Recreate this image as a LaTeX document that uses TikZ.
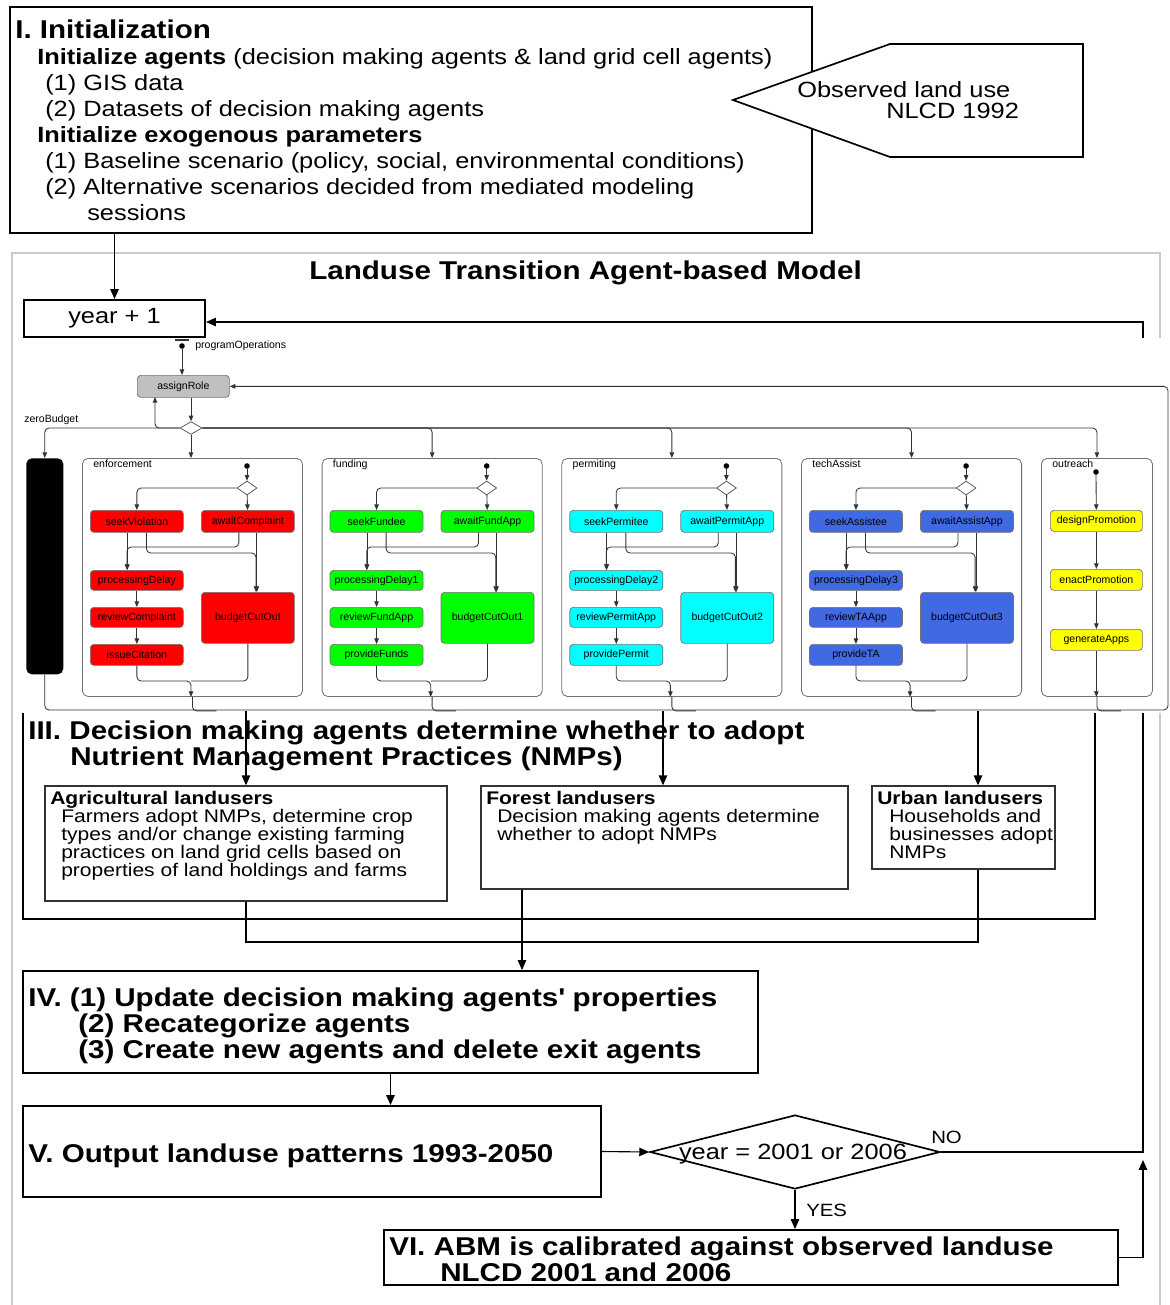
\documentclass[tikz,border=0pt]{standalone}
\usepackage{fontspec}
\setmainfont[FakeStretch=1.15]{Liberation Sans}
\newfontfamily\scfont{Liberation Sans}
\usetikzlibrary{positioning,fit,shapes.geometric,arrows.meta}

\begin{document}
\begin{tikzpicture}[x=0.025cm,y=-0.025cm,
  flowbox/.style={draw,line width=1.4pt,inner sep=0pt},
  userbox/.style={draw=black!80,line width=1pt,inner sep=0pt},
  bodytext/.style={anchor=base west,inner sep=0pt,font=\fontsize{15.7}{17}\selectfont},
  headtext/.style={anchor=base west,inner sep=0pt,font=\fontsize{18.3}{20}\selectfont\bfseries},
  usertext/.style={anchor=base west,inner sep=0pt,font=\fontsize{13}{14}\selectfont},
  usertitle/.style={usertext,font=\fontsize{13}{14}\selectfont\bfseries},
  flowline/.style={line width=0.8pt},
  flowarrow/.style={flowline,-{Triangle[length=7pt,width=6pt]}},
  scline/.style={draw=black!80,line width=0.6pt,rounded corners=3pt},
  scarrow/.style={scline,-{Triangle[length=4pt,width=3.2pt]}},
  sclabel/.style={anchor=base west,inner sep=0pt,font=\scfont\fontsize{7.5}{8}\selectfont},
  scstate/.style={draw=black!55,line width=0.5pt,rounded corners=2.5pt,inner sep=0pt,anchor=north west,
    minimum width=2.325cm,minimum height=0.55cm,font=\scfont\fontsize{7.5}{8}\selectfont},
  sccontainer/.style={draw=black!55,line width=0.6pt,rounded corners=4pt,inner sep=0pt,anchor=north west,
    minimum height=5.95cm},
  scdot/.style={circle,fill=black,inner sep=0pt,minimum size=0.14cm},
  scchoice/.style={diamond,draw=black!70,fill=white,line width=0.5pt,inner sep=0pt}]
\definecolor{scred}{HTML}{FF0000}
\definecolor{scgreen}{HTML}{00FF00}
\definecolor{sccyan}{HTML}{00FFFF}
\definecolor{scblue}{HTML}{4169E1}
\definecolor{scyellow}{HTML}{FFFF00}
\definecolor{scgray}{HTML}{C0C0C0}
\definecolor{framegray}{HTML}{CCCCCC}
\useasboundingbox (0,0) rectangle (1170,1305);

% frame of the model
\draw[framegray,line width=0.8pt] (12,1305) -- (12,253) -- (1160,253) -- (1160,1305);

% I. initialization
\node (init) [flowbox,fit={(10,7) (812,233)}] {};
\node (initTitle) [headtext] at (15,38) {I. Initialization};
\foreach \n/\x/\y/\t in {1/37/64/{\textbf{Initialize agents} (decision making agents \& land grid cell agents)},
    2/45/90/{(1) GIS data}, 3/45/116/{(2) Datasets of decision making agents},
    4/37/142/{\textbf{Initialize exogenous parameters}},
    5/45/168/{(1) Baseline scenario (policy, social, environmental conditions)},
    6/45/194/{(2) Alternative scenarios decided from mediated modeling}, 7/87/220/{sessions}}
  {\node (init\n) [bodytext] at (\x,\y) {\t};}

% observed land use
\draw[line width=1.2pt,fill=white] (733,100) -- (890,44) -- (1083,44) -- (1083,157) -- (890,157) -- cycle;
\node (obs1) [bodytext] at (797,97) {Observed land use};
\node (obs2) [bodytext] at (886,118) {NLCD 1992};

\node (modelTitle) [headtext] at (309,279) {Landuse Transition Agent-based Model};

\node (year) [flowbox,anchor=north west,minimum width=4.525cm,minimum height=0.925cm,
  font=\fontsize{15.7}{17}\selectfont] at (23,299) {year + 1};
\draw[flowarrow] (year |- init.south) -- (year.north);

% III. decisions
\node (decide) [flowbox,line width=1.8pt,fit={(23,712) (1095,919)}] {};
\node (decideT1) [headtext] at (28,739) {III. Decision making agents determine whether to adopt};
\node (decideT2) [headtext] at (70,765) {Nutrient Management Practices (NMPs)};

\node (agri) [userbox,fit={(45,786) (447,901)}] {};
\node (agriT) [usertitle] at (50,804) {Agricultural landusers};
\foreach \n/\y/\t in {1/822/{Farmers adopt NMPs, determine crop}, 2/840/{types and/or change existing farming},
    3/858/{practices on land grid cells based on}, 4/876/{properties of land holdings and farms}}
  {\node (agri\n) [usertext] at (61,\y) {\t};}

\node (forest) [userbox,fit={(481,786) (848,889)}] {};
\node (forestT) [usertitle] at (486,804) {Forest landusers};
\node (forest1) [usertext] at (497,822) {Decision making agents determine};
\node (forest2) [usertext] at (497,840) {whether to adopt NMPs};

\node (urban) [userbox,fit={(872,786) (1055,869)}] {};
\node (urbanT) [usertitle] at (877,804) {Urban landusers};
\node (urban1) [usertext] at (889,822) {Households and};
\node (urban2) [usertext] at (889,840) {businesses adopt};
\node (urban3) [usertext] at (889,858) {NMPs};

% IV. update
\node (update) [flowbox,fit={(23,971) (758,1073)}] {};
\node (update1) [headtext] at (28,1006) {IV. (1) Update decision making agents\textquotesingle{} properties};
\node (update2) [headtext] at (78,1032) {(2) Recategorize agents};
\node (update3) [headtext] at (78,1058) {(3) Create new agents and delete exit agents};

% V. output
\node (output) [flowbox,fit={(23,1106) (601,1197)}] {};
\node (outputT) [headtext] at (28,1162) {V. Output landuse patterns 1993-2050};

\node (cond) [diamond,draw,line width=1.2pt,inner sep=0pt,minimum width=7.25cm,minimum height=1.85cm] at (795,1152) {};
\node (condT) [bodytext,anchor=base] at (793,1159) {year = 2001 or 2006};
\node (noLbl) [usertext,font=\fontsize{12.6}{14}\selectfont] at (931,1143) {NO};
\node (yesLbl) [usertext,font=\fontsize{12.6}{14}\selectfont] at (806,1216) {YES};

% VI. calibration
\node (calib) [flowbox,fit={(384,1230) (1118,1285)}] {};
\node (calib1) [headtext] at (389,1255) {VI. ABM is calibrated against observed landuse};
\node (calib2) [headtext] at (440,1281) {NLCD 2001 and 2006};

% connectors of the flow
\coordinate (joinF) at (522,942);
\coordinate (joinU) at (978,942);
\coordinate (loopTop) at (1143,322);
\coordinate (loopIn) at (1143,1160);
\draw[flowline] (agri.south) |- (joinU) -- (joinU |- urban.south);
\draw[flowarrow] (joinF |- forest.south) -- (joinF |- update.north);
\draw[flowarrow] (update.south) -- (update.south |- output.north);
\draw[flowarrow] (output.east) -- (cond.west);
\draw[flowarrow] (cond.south) -- (cond.south |- calib.north);
\draw[flowarrow] (cond.east) -| (loopTop) -- (loopTop -| year.east);
\draw[flowarrow] (calib.east) -| (loopIn);

% statechart
\fill[white] (15,338) rectangle (1170,713);
\draw[black!80,line width=0.9pt] (175,340) -- (189,340);
\node (progDot) [scdot] at (182,346) {};
\node (progLbl) [sclabel] at (195,348) {programOperations};
\node (assign) [scstate,fill=scgray,minimum width=2.3cm] at (137,375) {assignRole};
\node (choice) [scchoice,minimum width=0.55cm,minimum height=0.32cm] at (191,428) {};
\node (zeroLbl) [sclabel] at (24,422) {zeroBudget};
\node (zero) [fill=black,rounded corners=4pt,inner sep=0pt,anchor=north west,
  minimum width=0.925cm,minimum height=5.4cm] at (26,458) {};
\coordinate (backIn) at (155,397);
\coordinate (busEnd) at (1168,710);
\draw[scarrow] (progDot) -- (progDot |- assign.north);
\draw[scarrow] (choice |- assign.south) -- (choice);
\draw[scarrow] (choice.west) -| (backIn);
\draw[scarrow] (choice.west) -| (zero);

\foreach \i/\nm/\clr/\sa/\sb/\pd/\rv/\pv/\bc in {
    0/enforcement/scred/seekViolation/awaitComplaint/processingDelay/reviewComplaint/issueCitation/budgetCutOut,
    1/funding/scgreen/seekFundee/awaitFundApp/processingDelay1/reviewFundApp/provideFunds/budgetCutOut1,
    2/permiting/sccyan/seekPermitee/awaitPermitApp/processingDelay2/reviewPermitApp/providePermit/budgetCutOut2,
    3/techAssist/scblue/seekAssistee/awaitAssistApp/processingDelay3/reviewTAApp/provideTA/budgetCutOut3}
{
  \pgfmathsetmacro{\ox}{82+239.7*\i}
  \node (\nm) [sccontainer,minimum width=5.5cm] at (\ox,458) {};
  \node (\nm-lbl) [sclabel] at (\ox+11,467) {\nm};
  \node (\nm-dot) [scdot] at (\ox+165,466) {};
  \node (\nm-dia) [scchoice,minimum width=0.5cm,minimum height=0.35cm] at (\ox+165,488) {};
  \node (\nm-sa) [scstate,fill=\clr] at (\ox+8,510) {\sa};
  \node (\nm-sb) [scstate,fill=\clr] at (\ox+119,510) {\sb};
  \node (\nm-pd) [scstate,fill=\clr,minimum height=0.5cm] at (\ox+8,570) {\pd};
  \node (\nm-rv) [scstate,fill=\clr,minimum height=0.5cm] at (\ox+8,607) {\rv};
  \node (\nm-pv) [scstate,fill=\clr,minimum height=0.525cm] at (\ox+8,644) {\pv};
  \node (\nm-bc) [scstate,fill=\clr,minimum height=1.275cm] at (\ox+119,592) {\bc};
  \coordinate (\nm-j1) at (\ox+174,553);
  \coordinate (\nm-j2) at (\ox+45,547);
  \coordinate (\nm-j3) at (\ox+109,681);
  \draw[scarrow] (\nm-dot) -- (\nm-dia);
  \draw[scarrow] (\nm-dia.west) -| (\nm-sa);
  \draw[scarrow] (\nm-dia) -- (\nm-sb);
  \draw[scarrow] ([xshift=-6.8pt]\nm-sa.south) -- ([xshift=-6.8pt]\nm-pd.north);
  \draw[scarrow] ([xshift=6.8pt]\nm-sa.south) |- (\nm-j1) -- (\nm-j1 |- \nm-bc.north);
  \draw[scarrow] ([xshift=-6.4pt]\nm-sb.south) |- (\nm-j2) -- (\nm-j2 |- \nm-pd.north);
  \draw[scarrow] ([xshift=6.4pt]\nm-sb.south) -- ([xshift=6.4pt]\nm-bc.north);
  \draw[scarrow] (\nm-pd) -- (\nm-rv);
  \draw[scarrow] (\nm-rv) -- (\nm-pv);
  \draw[scarrow] (\nm-pv) |- (\nm-j3) -- (\nm-j3 |- \nm.south);
  \draw[scline] (\nm-bc) |- (\nm-j3);
}

\node (outreach) [sccontainer,minimum width=2.775cm] at (1041,458) {};
\node (outreach-lbl) [sclabel] at (1052,467) {outreach};
\node (outreach-dot) [scdot] at (1096,472) {};
\node (designPromotion) [scstate,fill=scyellow,minimum width=2.3cm,minimum height=0.525cm] at (1050,510) {designPromotion};
\node (enactPromotion) [scstate,fill=scyellow,minimum width=2.3cm,minimum height=0.525cm] at (1050,569) {enactPromotion};
\node (generateApps) [scstate,fill=scyellow,minimum width=2.3cm,minimum height=0.525cm] at (1050,629) {generateApps};
\draw[scarrow] (outreach-dot) -- (designPromotion);
\draw[scarrow] (designPromotion) -- (enactPromotion);
\draw[scarrow] (enactPromotion) -- (generateApps);
\draw[scarrow] (generateApps) -- (generateApps |- outreach.south);

\draw[scarrow] (choice) -- (choice |- enforcement.north);
\foreach \nm in {funding,permiting,techAssist,outreach}
  {\draw[scarrow] (choice.east) -| (\nm);}
\foreach \nm in {enforcement,funding,permiting,techAssist,outreach}
  {\draw[scline] (\nm.south) |- ++(24,14);}
\draw[scarrow] (zero) |- (busEnd) |- (assign.east);

% from the statechart to the landusers
\coordinate (busA) at (246,711);
\coordinate (busF) at (663,711);
\coordinate (busU) at (978,711);
\draw[flowarrow] (busA) -- (busA |- agri.north);
\draw[flowarrow] (busF) -- (busF |- forest.north);
\draw[flowarrow] (busU) -- (busU |- urban.north);
\end{tikzpicture}
\end{document}
